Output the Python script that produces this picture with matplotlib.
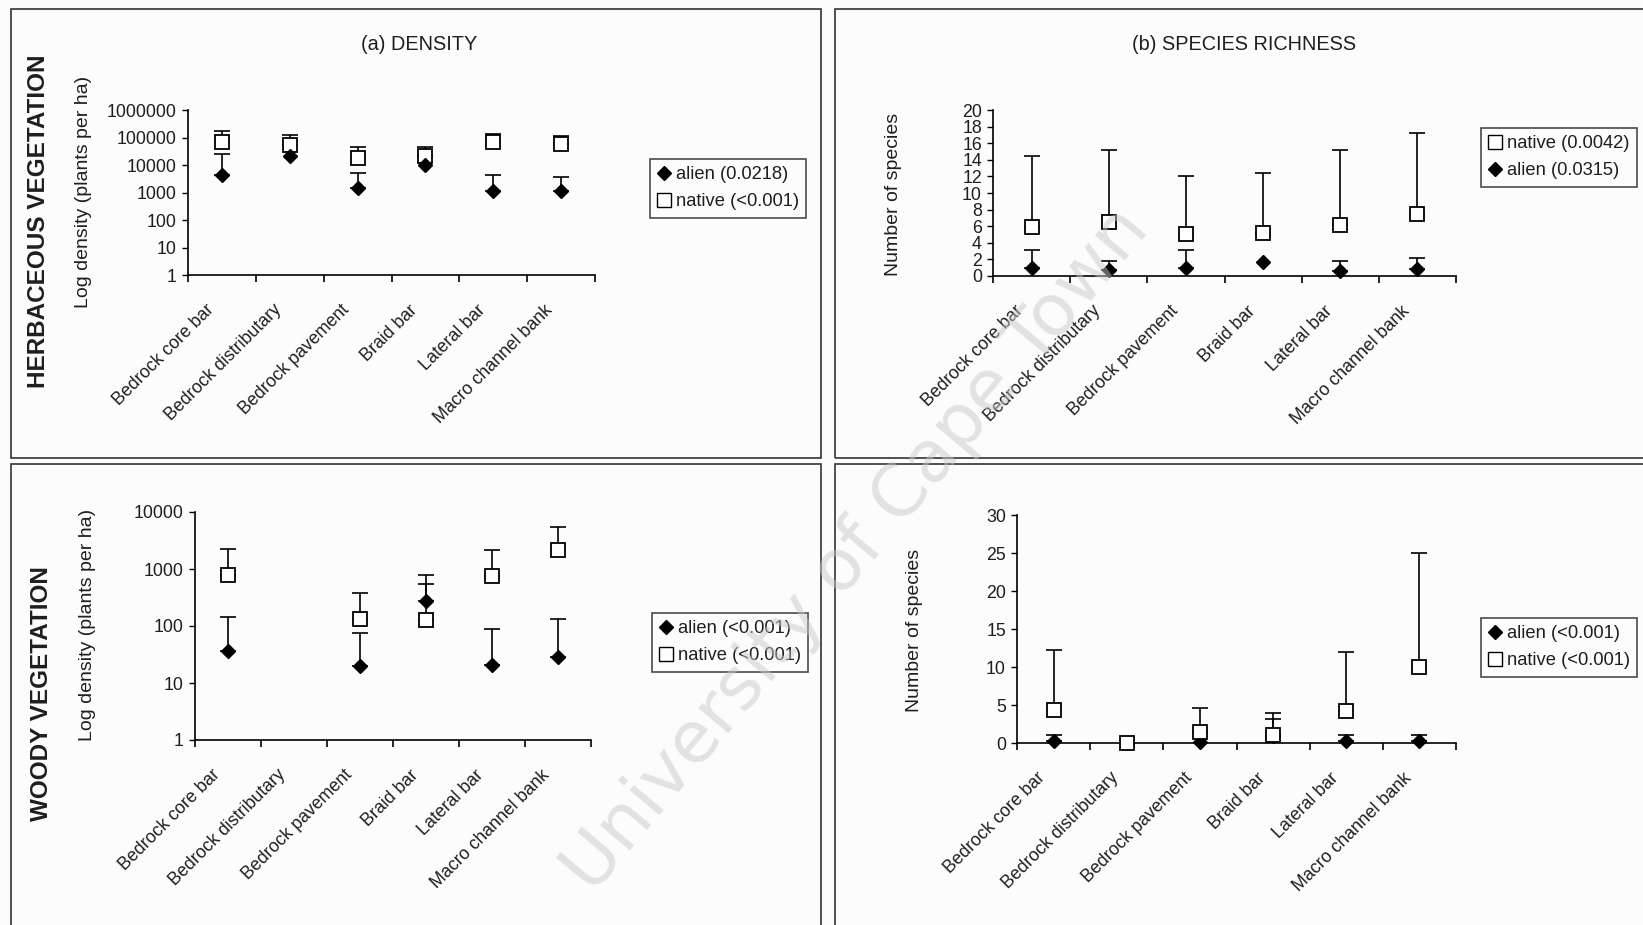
import numpy as np
import matplotlib
matplotlib.use("Agg")
import matplotlib.pyplot as plt
import matplotlib.transforms as mtransforms
from matplotlib.lines import Line2D
from matplotlib.patches import Rectangle

plt.rcParams['font.family'] = ['Liberation Sans', 'DejaVu Sans']

categories = ["Bedrock core bar", "Bedrock distributary", "Bedrock pavement",
              "Braid bar", "Lateral bar", "Macro channel bank"]
nan = np.nan

# Herbaceous density (plants per ha): means and upper error limits
herb_dens_alien = [4300, 21000, 1400, 10000, 1130, 1130]
herb_dens_alien_hi = [24500, nan, 5000, nan, 4300, 3750]
herb_dens_native = [67000, 53000, 18500, 22000, 67000, 56000]
herb_dens_native_hi = [177000, 123000, 46000, 46000, 131000, 117000]

# Herbaceous species richness
herb_rich_native = [5.9, 6.5, 5.1, 5.2, 6.1, 7.5]
herb_rich_native_hi = [14.4, 15.2, 12.0, 12.4, 15.2, 17.2]
herb_rich_alien = [1.0, 0.7, 1.0, 1.7, 0.6, 0.8]
herb_rich_alien_hi = [3.1, 1.8, 3.1, nan, 1.8, 2.2]

# Woody density (plants per ha)
woody_dens_alien = [36, nan, 20, 270, 21, 29]
woody_dens_alien_hi = [141, nan, 76, 550, 88, 132]
woody_dens_native = [775, nan, 135, 130, 745, 2130]
woody_dens_native_hi = [2270, nan, 385, 775, 2130, 5450]

# Woody species richness
woody_rich_alien = [0.3, 0.0, 0.1, 0.9, 0.3, 0.3]
woody_rich_alien_hi = [1.0, nan, nan, 3.2, 1.0, 1.0]
woody_rich_native = [4.4, 0.0, 1.4, 1.0, 4.2, 10.0]
woody_rich_native_hi = [12.2, nan, 4.6, 3.9, 12.0, 25.0]

legend_a = ["alien (0.0218)", "native (<0.001)"]
legend_b = ["native (0.0042)", "alien (0.0315)"]
legend_c = ["alien (<0.001)", "native (<0.001)"]
legend_d = ["alien (<0.001)", "native (<0.001)"]

W, H = 1643, 925
BG = '#fcfcfc'
INK = '#1e1e1e'
fig = plt.figure(figsize=(W / 100, H / 100), dpi=100, facecolor=BG)


def px_axes(left, top, right, bottom):
    ax = fig.add_axes([left / W, 1 - bottom / H, (right - left) / W, (bottom - top) / H])
    ax.set_facecolor('none')
    return ax


def fig_text(x, y, s, **kw):
    fig.text(x / W, 1 - y / H, s, **kw)


x = np.arange(len(categories))


def series(ax, mean, hi, kind, z):
    mean = np.asarray(mean, float)
    hi = np.asarray(hi, float)
    if kind == 'alien':
        style = dict(marker='D', mfc='black', mec='black', ms=7.5, mew=1.0)
    else:
        style = dict(marker='s', mfc='white', mec='black', ms=10, mew=1.3)
    ok = np.isfinite(hi) & np.isfinite(mean)
    ax.errorbar(x[ok], mean[ok], yerr=[np.zeros(ok.sum()), hi[ok] - mean[ok]],
                fmt='none', ecolor='black', elinewidth=1.2, capsize=5.5,
                capthick=1.2, zorder=z - 0.5, clip_on=False)
    ax.plot(x, mean, ls='none', zorder=z, clip_on=False, **style)


label_shift = mtransforms.ScaledTranslation(-12 / 72, -10 / 72, fig.dpi_scale_trans)


def style_axes(ax):
    ax.set_xlim(-0.5, 5.5)
    for s in ('top', 'right'):
        ax.spines[s].set_visible(False)
    for s in ('left', 'bottom'):
        ax.spines[s].set_linewidth(1.2)
    ax.set_xticks(x)
    ax.tick_params(axis='x', which='major', length=0, pad=9)
    ax.set_xticks(np.arange(-0.5, 6, 1), minor=True)
    ax.tick_params(axis='x', which='minor', length=5, width=1.2, direction='out')
    ax.tick_params(axis='y', which='major', length=4, width=1.0, direction='out',
                   labelsize=12.8, labelcolor=INK, pad=4)
    ax.tick_params(axis='y', which='minor', length=0)
    ax.set_xticklabels(categories, rotation=45, ha='right', va='top',
                       rotation_mode='anchor', fontsize=12.8, color=INK)


def shift_category_labels(ax):
    for tick in ax.xaxis.get_major_ticks():
        lab = tick.label1
        lab.set_transform(lab.get_transform() + label_shift)


def legend(ax, labels, kinds, left, top):
    handles = []
    for k in kinds:
        if k == 'alien':
            handles.append(Line2D([], [], ls='none', marker='D', mfc='black', mec='black', ms=7))
        else:
            handles.append(Line2D([], [], ls='none', marker='s', mfc='white', mec='black', ms=9.5))
    leg = ax.legend(handles, labels, loc='upper left',
                    bbox_to_anchor=(left / W, 1 - top / H),
                    bbox_transform=fig.transFigure, frameon=True, fancybox=False,
                    edgecolor=INK, facecolor='none', fontsize=13.2,
                    handlelength=0.7, handletextpad=0.3, borderpad=0.4,
                    labelspacing=0.55, borderaxespad=0)
    leg.get_frame().set_linewidth(1.2)
    for t in leg.get_texts():
        t.set_color(INK)


# (a) herbaceous density
ax_a = px_axes(188, 110, 595, 275)
ax_a.set_yscale('log')
ax_a.set_ylim(1, 1e6)
ticks_a = [1, 10, 100, 1000, 10000, 100000, 1000000]
ax_a.set_yticks(ticks_a)
ax_a.set_yticklabels([str(t) for t in ticks_a])
style_axes(ax_a)
series(ax_a, herb_dens_native, herb_dens_native_hi, 'native', 3)
series(ax_a, herb_dens_alien, herb_dens_alien_hi, 'alien', 4)
legend(ax_a, legend_a, ['alien', 'native'], 650, 159)

# (b) herbaceous species richness
ax_b = px_axes(993, 110, 1456, 276)
ax_b.set_ylim(0, 20)
ax_b.set_yticks(np.arange(0, 21, 2))
style_axes(ax_b)
series(ax_b, herb_rich_alien, herb_rich_alien_hi, 'alien', 3)
series(ax_b, herb_rich_native, herb_rich_native_hi, 'native', 4)
legend(ax_b, legend_b, ['native', 'alien'], 1481, 128)

# (c) woody density
ax_c = px_axes(195, 512, 591, 740)
ax_c.set_yscale('log')
ax_c.set_ylim(1, 1e4)
ticks_c = [1, 10, 100, 1000, 10000]
ax_c.set_yticks(ticks_c)
ax_c.set_yticklabels([str(t) for t in ticks_c])
style_axes(ax_c)
series(ax_c, woody_dens_native, woody_dens_native_hi, 'native', 3)
series(ax_c, woody_dens_alien, woody_dens_alien_hi, 'alien', 4)
legend(ax_c, legend_c, ['alien', 'native'], 652, 613)

# (d) woody species richness
ax_d = px_axes(1017, 515, 1456, 743)
ax_d.set_ylim(0, 30)
ax_d.set_yticks(np.arange(0, 31, 5))
style_axes(ax_d)
series(ax_d, woody_rich_alien, woody_rich_alien_hi, 'alien', 3)
series(ax_d, woody_rich_native, woody_rich_native_hi, 'native', 4)
legend(ax_d, legend_d, ['alien', 'native'], 1481, 618)

for ax in (ax_a, ax_b, ax_c, ax_d):
    shift_category_labels(ax)

# Panel titles, row labels and axis titles
fig_text(419, 45, "(a) DENSITY", ha='center', va='center', fontsize=14.3, color=INK)
fig_text(1244, 45, "(b) SPECIES RICHNESS", ha='center', va='center', fontsize=14.3, color=INK)
fig_text(39, 221, "HERBACEOUS VEGETATION", ha='center', va='center', rotation=90,
         fontsize=17.5, fontweight='bold', color=INK)
fig_text(42, 694, "WOODY VEGETATION", ha='center', va='center', rotation=90,
         fontsize=17.5, fontweight='bold', color=INK)
fig_text(84, 192, "Log density (plants per ha)", ha='center', va='center', rotation=90,
         fontsize=14, color=INK)
fig_text(893, 194, "Number of species", ha='center', va='center', rotation=90,
         fontsize=14, color=INK)
fig_text(88, 625, "Log density (plants per ha)", ha='center', va='center', rotation=90,
         fontsize=14, color=INK)
fig_text(915, 630, "Number of species", ha='center', va='center', rotation=90,
         fontsize=14, color=INK)

# Panel frames
for (l, t, r, b) in [(10.5, 8.5, 820.5, 458), (835, 8.5, 1660, 458),
                     (10.5, 464, 820.5, 940), (835, 464, 1660, 940)]:
    fig.patches.append(Rectangle((l / W, 1 - b / H), (r - l) / W, (b - t) / H,
                                 transform=fig.transFigure, fill=False,
                                 edgecolor='#333333', linewidth=1.2))

# Diagonal watermark
fig_text(857, 550, "University of Cape Town", ha='center', va='center', rotation=50,
         fontsize=52, color='#c8c8c8', alpha=0.5, zorder=10, family='DejaVu Sans')

fig.savefig("out.png", dpi=100, facecolor=BG)
